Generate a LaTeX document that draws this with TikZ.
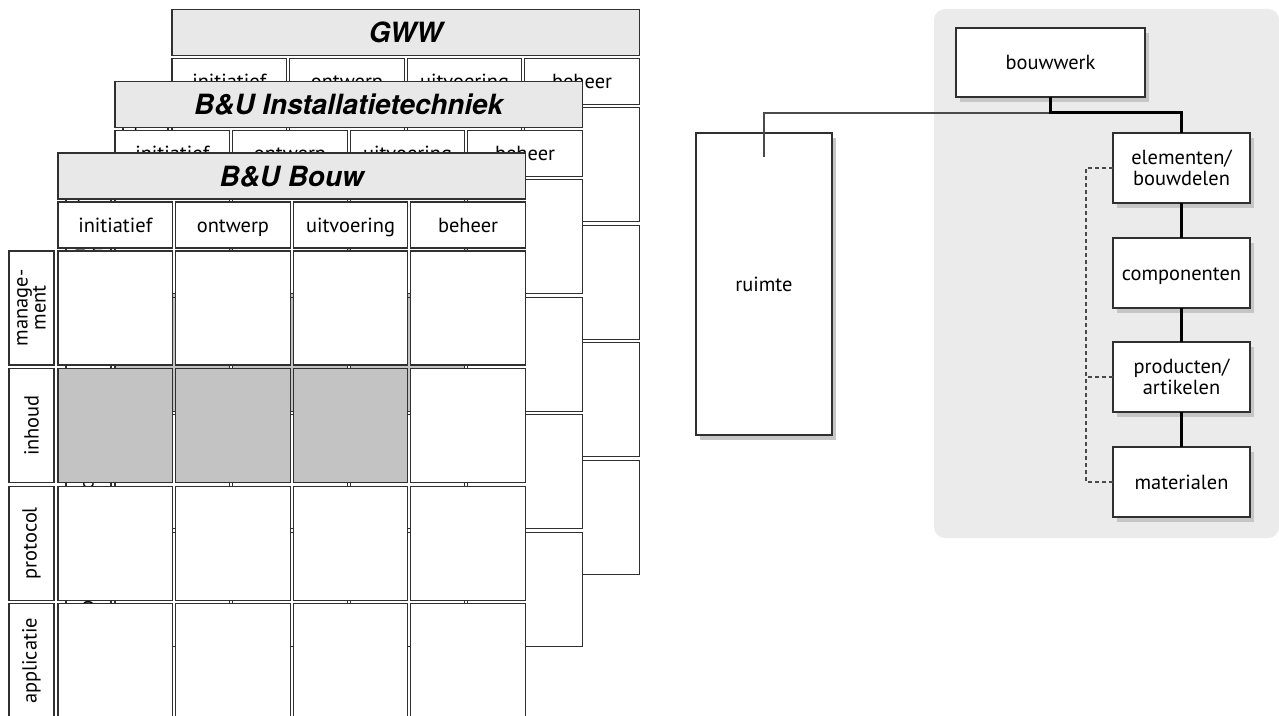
\documentclass[tikz,border=0pt]{standalone}
\usepackage{fontspec}
\setmainfont{PT Sans}
\newfontfamily\titlefont{TeX Gyre Heros}
\usetikzlibrary{shadows}
\definecolor{linec}{HTML}{303030}
\definecolor{titlefill}{HTML}{E8E8E8}
\definecolor{hlfill}{HTML}{C3C3C3}
\definecolor{panel}{HTML}{EBEBEB}
\definecolor{shade}{HTML}{C6C6C6}
\definecolor{thinc}{HTML}{4A4A4A}
\tikzset{
  box/.style={draw=linec, line width=1.2bp, inner sep=0pt, outer sep=0pt, fill=white},
  titlebox/.style={box, fill=titlefill, minimum width=467.4bp, minimum height=46bp,
    text height=20bp, text depth=0bp,
    font=\titlefont\bfseries\itshape\fontsize{28}{28}\selectfont},
  cellbox/.style={box, minimum width=114.6bp, minimum height=46bp,
    text height=15bp, text depth=1bp,
    font=\fontsize{20.5}{22}\selectfont},
  gridcell/.style={box, minimum width=114.6bp, minimum height=114bp},
  rowlab/.style={box, rotate=90, minimum width=114bp, minimum height=45bp, align=center,
    font=\fontsize{20.5}{14}\selectfont},
  treebox/.style={box, line width=1.3bp, font=\fontsize{20.5}{21}\selectfont, align=center,
    drop shadow={shadow xshift=4bp, shadow yshift=-5bp, fill=shade, opacity=1}},
  onetext/.style={text height=15bp, text depth=1bp},
  thickline/.style={line width=3bp, black},
  thinline/.style={line width=1.1bp, thinc},
  dashline/.style={line width=1.1bp, thinc, dash pattern=on 4bp off 3bp},
}
\newcommand\drawlayer[4]{%
  \node[titlebox, anchor=north west] (#1-title) at (#2,#3) {#4};
  \foreach \t [count=\i from 0] in {initiatief,ontwerp,uitvoering,beheer}{
    \node[cellbox, anchor=north west] (#1-h\i) at ({#2+117.6*\i},{#3+49}) {\t};
  }
  \node[rowlab] (#1-r0) at ({#2-26.5},{#3+98+57}) {manage-\\ment};
  \node[rowlab] (#1-r1) at ({#2-26.5},{#3+98+117.6+57}) {inhoud};
  \node[rowlab] (#1-r2) at ({#2-26.5},{#3+98+235.2+57}) {protocol};
  \node[rowlab] (#1-r3) at ({#2-26.5},{#3+98+352.8+57}) {applicatie};
  \foreach \j in {0,2,3}{
    \foreach \i in {0,...,3}{
      \node[gridcell, anchor=north west] (#1-c\j\i) at ({#2+117.6*\i},{#3+98+117.6*\j}) {};
    }
  }
  \foreach \i in {0,1,2}{
    \node[gridcell, fill=hlfill, anchor=north west] (#1-c1\i) at ({#2+117.6*\i},{#3+98+117.6}) {};
  }
  \node[gridcell, anchor=north west] (#1-c13) at ({#2+117.6*3},{#3+98+117.6}) {};
}
\begin{document}
\begin{tikzpicture}[x=1bp, y=-1bp]
\useasboundingbox (0,0) rectangle (1279,716);
% stacked layers
\drawlayer{gww}{172}{9.5}{GWW}
\drawlayer{ins}{115}{81.5}{B\&U Installatietechniek}
\drawlayer{bou}{58}{153}{B\&U Bouw}
% right panel
\fill[panel, rounded corners=11bp] (934,9) rectangle (1279,538);
\node[treebox, onetext, minimum width=189bp, minimum height=69bp] (bouwwerk) at (1050.5,62.5) {bouwwerk};
\node[treebox, onetext, minimum width=136bp, minimum height=302bp] (ruimte) at (764,284) {ruimte};
\node[treebox, minimum width=137bp, minimum height=70bp] (elem) at (1181.5,168) {elementen/\\bouwdelen};
\node[treebox, onetext, minimum width=137bp, minimum height=70bp] (comp) at (1181.5,273) {componenten};
\node[treebox, minimum width=137bp, minimum height=70bp] (prod) at (1181.5,377) {producten/\\artikelen};
\node[treebox, onetext, minimum width=137bp, minimum height=70bp] (mat) at (1181.5,482) {materialen};
\coordinate (j1) at (1050.5,113);
\coordinate (r1) at (764,157);
\coordinate (dx) at (1086,0);
\draw[thinline] (j1) -| (r1);
\draw[thickline] (bouwwerk.south) -- (j1) -| (elem.north);
\draw[thickline] (elem) -- (comp);
\draw[thickline] (comp) -- (prod);
\draw[thickline] (prod) -- (mat);
\draw[dashline] (elem.west) -- (elem.west -| dx) |- (mat.west);
\draw[dashline] (prod.west) -- (prod.west -| dx);
\end{tikzpicture}
\end{document}
